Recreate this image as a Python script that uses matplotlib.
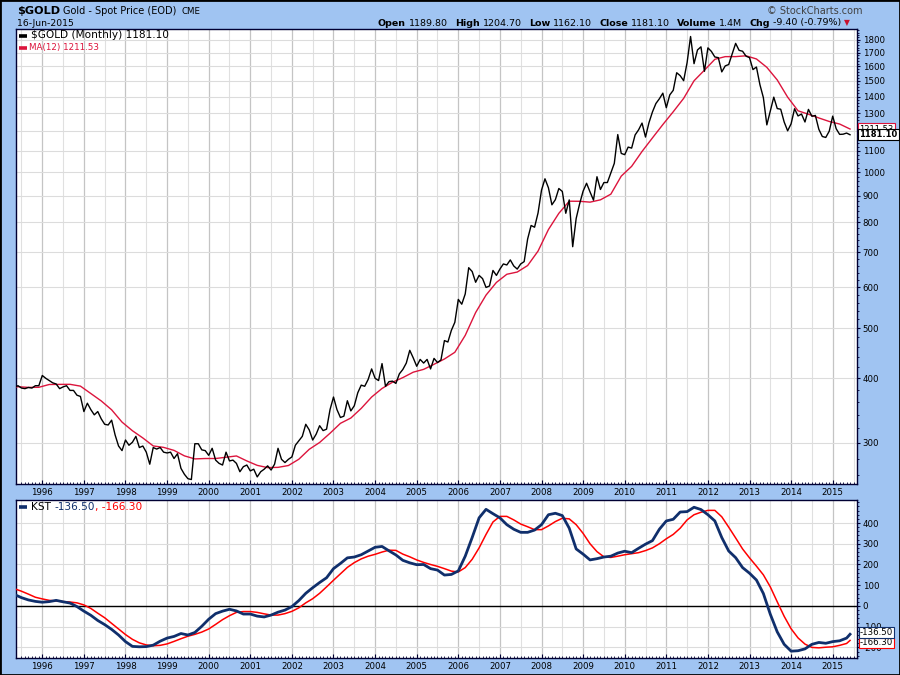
import numpy as np
import matplotlib
matplotlib.use("Agg")
import matplotlib.pyplot as plt
from matplotlib.lines import Line2D
from matplotlib.patches import Rectangle
from matplotlib.ticker import FixedLocator, FixedFormatter, NullFormatter

W, H = 900, 675
BG = "#a0c4f2"

# monthly closes, May 1995 .. Jun 2015
gold_start = 1995 + 4 / 12
gold_close = [
    385, 387, 383, 382, 384, 383, 387, 387,
    405, 400, 396, 392, 390, 382, 385, 387, 379, 379, 371, 369,
    345, 358, 348, 340, 345, 334, 326, 325, 332, 311, 296, 290,
    304, 297, 301, 309, 294, 296, 288, 273, 294, 292, 294, 288,
    287, 288, 280, 286, 268, 261, 256, 255, 299, 299, 291, 290,
    284, 293, 278, 274, 272, 288, 277, 278, 274, 264, 270, 272,
    265, 267, 258, 264, 267, 271, 266, 273, 293, 279, 275, 279,
    282, 297, 303, 309, 326, 318, 304, 312, 324, 317, 319, 348,
    368, 348, 336, 338, 362, 346, 354, 375, 388, 386, 398, 417,
    400, 396, 427, 386, 394, 395, 391, 408, 416, 428, 453, 438,
    422, 435, 428, 435, 417, 437, 429, 434, 473, 470, 495, 513,
    568, 556, 582, 654, 643, 613, 632, 623, 599, 603, 646, 632,
    650, 665, 662, 677, 659, 650, 665, 672, 743, 789, 783, 834,
    923, 971, 933, 865, 885, 930, 918, 833, 884, 718, 814, 869,
    919, 952, 916, 883, 980, 926, 955, 955, 996, 1040, 1182, 1087,
    1081, 1118, 1113, 1180, 1207, 1244, 1169, 1246, 1307, 1357, 1386, 1421,
    1332, 1410, 1439, 1556, 1536, 1502, 1628, 1828, 1620, 1722, 1746, 1566,
    1738, 1711, 1669, 1664, 1562, 1604, 1614, 1691, 1773, 1719, 1712, 1675,
    1664, 1578, 1596, 1476, 1393, 1234, 1313, 1396, 1327, 1323, 1250, 1202,
    1240, 1326, 1284, 1295, 1250, 1322, 1282, 1287, 1210, 1172, 1167, 1200,
    1283, 1213, 1183, 1184, 1190, 1181.1,
]

# MA(12), read every quarter (Mar, Jun, Sep, Dec) from Mar 1995
ma_start = 1995 + 2 / 12
ma12 = [
    384.2, 385.3, 384.1, 384.3, 389.1, 389.3, 389.4, 386.3,
    373.8, 361.7, 347.7, 329.2, 316.8, 306.8, 296.1, 294.2,
    290.3, 283.3, 279.5, 280.0, 280.0, 281.6, 283.2, 277.0,
    271.6, 268.9, 269.2, 271.4, 279.1, 291.7, 300.7, 313.3,
    327.4, 335.2, 349.9, 368.0, 382.3, 393.0, 401.2, 411.0,
    416.2, 425.7, 435.8, 449.0, 484.1, 535.8, 579.0, 612.6,
    635.2, 641.5, 660.3, 704.1, 774.9, 832.8, 879.0, 878.6,
    875.3, 884.3, 906.9, 982.6, 1026.3, 1096.5, 1164.5, 1235.8,
    1308.2, 1388.4, 1501.3, 1573.8, 1651.8, 1671.5, 1671.7, 1677.7,
    1654.3, 1593.8, 1506.9, 1396.0, 1313.7, 1294.0, 1272.6, 1252.9,
    1238.7, 1211.53,
]

# KST and its signal, read every 2 months from May 1995, plus last bar Jun 2015
kst_start = 1995 + 4 / 12
kst = [
    55, 40, 29, 22,
    18, 21, 27, 20, 14, -3,
    -25, -45, -70, -90, -113, -140,
    -172, -195, -197, -196, -189, -170,
    -155, -147, -133, -140, -128, -98,
    -64, -37, -25, -16, -24, -39,
    -39, -49, -53, -44, -30, -20,
    -3, 26, 61, 88, 113, 136,
    180, 205, 232, 236, 247, 265,
    283, 287, 266, 246, 220, 208,
    199, 200, 180, 173, 149, 152,
    169, 240, 330, 425, 466, 445,
    425, 392, 370, 355, 355, 366,
    392, 440, 447, 436, 375, 275,
    250, 222, 228, 236, 240, 255,
    264, 257, 278, 298, 315, 370,
    410, 418, 453, 455, 476, 465,
    440, 410, 330, 265, 233, 185,
    158, 125, 60, -40, -125, -185,
    -218, -216, -207, -185, -176, -180,
    -172, -168, -155,
]
kst_signal = [
    83, 71, 57, 42,
    34, 27, 24, 21, 19, 15,
    5, -12, -35, -57, -84, -111,
    -138, -161, -178, -188, -192, -190,
    -183, -171, -158, -146, -137, -126,
    -111, -89, -66, -47, -31, -27,
    -27, -31, -38, -44, -44, -37,
    -26, -9, 15, 35, 61, 92,
    124, 155, 186, 209, 227, 240,
    249, 260, 269, 268, 250, 237,
    222, 210, 200, 191, 180, 168,
    164, 185, 225, 280, 345, 405,
    432, 432, 415, 395, 382, 368,
    368, 386, 407, 423, 420, 392,
    350, 300, 262, 237, 234, 240,
    247, 252, 257, 267, 280, 300,
    324, 345, 375, 415, 440, 452,
    461, 461, 430, 380, 328, 275,
    232, 192, 150, 92, 20, -50,
    -110, -154, -184, -200, -202, -199,
    -197, -190, -181,
]
last_date = 2015 + 5 / 12
kst_last = -136.50
signal_last = -166.30
gold_last = 1181.10
ma_last = 1211.53

years = list(range(1996, 2016))
price_ticks = [300, 400, 500, 600, 700, 800, 900, 1000, 1100, 1200,
               1300, 1400, 1500, 1600, 1700, 1800]
# 1200 sits under the value tags, as in the original
price_labels = ["" if t == 1200 else str(t) for t in price_ticks]
kst_ticks = [-200, -100, 0, 100, 200, 300, 400]

X0, X1 = 1995.368, 2015.584
TICK_FS = 6.2
SPINE = "#000033"


def px(x, y):
    return x / W, 1 - y / H


def text_row(fig, r, x, y, parts, gap=0):
    for s, color, weight, size in parts:
        t = fig.text(*px(x, y), s, color=color, fontweight=weight,
                     fontsize=size, va="center", ha="left")
        x += t.get_window_extent(r).width + gap
    return x


def dash(fig, x0, x1, y, color):
    fig.add_artist(Line2D([x0 / W, x1 / W], [1 - y / H] * 2, color=color,
                          lw=2.6, transform=fig.transFigure,
                          solid_capstyle="butt"))


def style_axes(ax, ticks, labels, minor):
    ax.set_facecolor("white")
    ax.set_xlim(X0, X1)
    for s in ax.spines.values():
        s.set_color(SPINE)
        s.set_linewidth(1.0)
    ax.set_xticks(years)
    ax.set_xticklabels([str(y) for y in years])
    ax.xaxis.set_minor_locator(FixedLocator(np.arange(1995.5, 2015.6, 1 / 12)))
    ax.tick_params(axis="x", which="major", direction="in", length=3,
                   labelsize=TICK_FS, pad=3, color=SPINE)
    ax.tick_params(axis="x", which="minor", direction="in", length=1.5,
                   color=SPINE)
    ax.yaxis.tick_right()
    ax.yaxis.set_major_locator(FixedLocator(ticks))
    ax.yaxis.set_major_formatter(FixedFormatter(labels))
    ax.yaxis.set_minor_locator(FixedLocator(minor))
    ax.yaxis.set_minor_formatter(NullFormatter())
    ax.tick_params(axis="y", which="major", direction="out", length=2.5,
                   labelsize=TICK_FS, pad=1.5, color=SPINE)
    ax.tick_params(axis="y", which="minor", direction="out", length=1.2,
                   color=SPINE)
    ax.tick_params(axis="x", which="both", top=False)
    for yr in years:
        ax.axvline(yr, color="#c4c4c4", lw=0.9, zorder=0)
    for yr in np.arange(1995.5, 2015.6, 1.0):
        ax.axvline(yr, color="#e0e0e0", lw=0.8, zorder=0)
    for t in ticks:
        ax.axhline(t, color="#dcdcdc", lw=0.8, zorder=0)


def main():
    fig = plt.figure(figsize=(W / 100, H / 100), dpi=100)
    fig.patch.set_facecolor(BG)
    r = fig.canvas.get_renderer()

    ax1 = fig.add_axes([16 / W, 1 - 484 / H, 841 / W, 455 / H])
    ax2 = fig.add_axes([16 / W, 1 - 658 / H, 841 / W, 158 / H])

    ax1.set_yscale("log")
    ax1.set_ylim(250, 1890)
    style_axes(ax1, price_ticks, price_labels, np.arange(260, 1890, 20))
    ax2.set_ylim(-251, 511)
    style_axes(ax2, kst_ticks, [str(t) for t in kst_ticks],
               np.arange(-240, 511, 20))

    x_gold = gold_start + np.arange(len(gold_close)) / 12
    x_ma = ma_start + np.arange(len(ma12)) * 3 / 12
    x_kst = np.append(kst_start + np.arange(len(kst)) * 2 / 12, last_date)

    ax1.plot(x_ma, ma12, color="#dc143c", lw=1.0, zorder=3)
    ax1.plot(x_gold, gold_close, color="black", lw=1.0, zorder=4)

    ax2.axhline(0, color="black", lw=1.0, zorder=2)
    ax2.plot(x_kst, kst_signal + [signal_last], color="#ff0000", lw=1.1, zorder=3)
    ax2.plot(x_kst, kst + [kst_last], color="#102f6c", lw=2.0, zorder=4)

    # value tags on the right axis
    tr1 = ax1.get_yaxis_transform()
    ax1.text(1.003, ma_last, "1211.53", transform=tr1, fontsize=6, ha="left",
             va="center", clip_on=False, zorder=5,
             bbox=dict(boxstyle="square,pad=0.15", fc="white", ec="#dc143c", lw=0.8))
    ax1.text(1.003, gold_last, "1181.10", transform=tr1, fontsize=6,
             fontweight="bold", ha="left", va="center", clip_on=False, zorder=6,
             bbox=dict(boxstyle="square,pad=0.15", fc="white", ec="black", lw=0.8))
    tr2 = ax2.get_yaxis_transform()
    ax2.text(1.003, signal_last - 12, "-166.30", transform=tr2, fontsize=6.2,
             ha="left", va="center", clip_on=False, zorder=5,
             bbox=dict(boxstyle="square,pad=0.1", fc="white", ec="#ff0000", lw=0.8))
    ax2.text(1.003, kst_last + 8, "-136.50", transform=tr2, fontsize=6.2,
             ha="left", va="center", clip_on=False, zorder=6,
             bbox=dict(boxstyle="square,pad=0.1", fc="white", ec="#102f6c", lw=0.8))

    # header
    text_row(fig, r, 17, 10.5, [("$GOLD", "black", "bold", 8.1)])
    text_row(fig, r, 63, 11, [("Gold - Spot Price (EOD)", "black", "normal", 7.0)])
    text_row(fig, r, 181, 11, [("CME", "black", "normal", 6.2)])
    text_row(fig, r, 17, 23, [("16-Jun-2015", "black", "normal", 6.7)])
    text_row(fig, r, 767, 10.5, [("\u00a9 StockCharts.com", "#404040", "normal", 7.0)])

    x = 378
    for label, val in [("Open", "1189.80"), ("High", "1204.70"), ("Low", "1162.10"),
                       ("Close", "1181.10"), ("Volume", "1.4M"), ("Chg", "-9.40 (-0.79%)")]:
        x = text_row(fig, r, x, 23, [(label, "black", "bold", 6.8)], gap=3)
        x = text_row(fig, r, x, 23, [(val, "black", "normal", 6.8)]) + 7
    text_row(fig, r, x - 4, 22.5, [("\u25bc", "#c8102e", "normal", 5.5)])

    # legends
    dash(fig, 19, 27, 35.5, "black")
    text_row(fig, r, 31, 35.5, [("$GOLD (Monthly) 1181.10", "black", "normal", 7.6)])
    dash(fig, 19, 27, 47.5, "#dc143c")
    text_row(fig, r, 29, 47.5, [("MA(12) 1211.53", "#dc143c", "normal", 6.3)])

    dash(fig, 19, 27, 507, "#102f6c")
    text_row(fig, r, 31, 507, [("KST ", "black", "normal", 7.6),
                               ("-136.50", "#102f6c", "normal", 7.6),
                               (", -166.30", "#ff0000", "normal", 7.6)])

    fig.add_artist(Rectangle((0, 0), 1, 1, transform=fig.transFigure,
                             fill=False, ec="black", lw=2))
    fig.savefig("out.png", dpi=100, facecolor=BG)


if __name__ == "__main__":
    main()
